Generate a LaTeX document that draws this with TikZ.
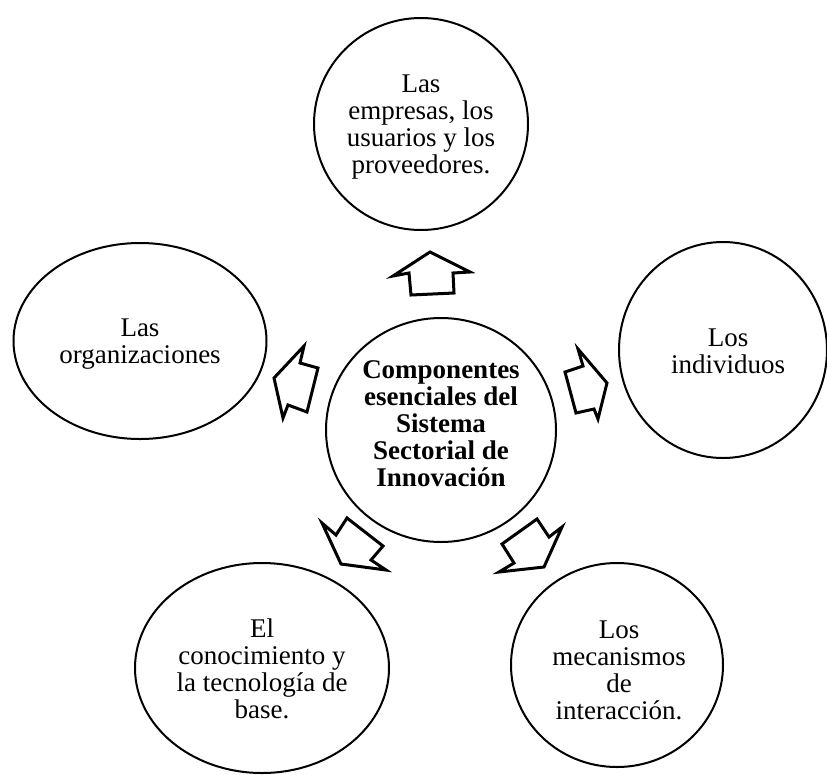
\documentclass[tikz,border=0pt]{standalone}
\usepackage{fontspec}
\setmainfont{Liberation Serif}
\usetikzlibrary{shapes.geometric}
\begin{document}
\begin{tikzpicture}[x=1pt,y=-1pt,
  bubble/.style={draw, ellipse, line width=2pt, inner sep=0pt},
  txt/.style={align=center, inner sep=0pt, font=\fontsize{27}{27}\selectfont},
  blockarrow/.style={draw, line width=3pt, line join=miter, fill=white}]
\useasboundingbox (0,0) rectangle (827,774);

% shapes
\node[bubble, minimum width=214pt, minimum height=212pt] (top) at (421,124) {};
\node[bubble, minimum width=230pt, minimum height=224pt] (centre) at (441,430) {};
\node[bubble, minimum width=253pt, minimum height=196pt] (left) at (140,341) {};
\node[bubble, minimum width=208pt, minimum height=216pt] (right) at (723,350) {};
\node[bubble, minimum width=254pt, minimum height=210pt] (botleft) at (262,668) {};
\node[bubble, minimum width=212pt, minimum height=204pt] (botright) at (617,665) {};

% texts
\node[txt] (toptext) at (421,127.1) {\strut Las\\empresas, los\\usuarios y los\\proveedores.\strut};
\node[txt, font=\fontsize{27}{27}\selectfont\bfseries] (centretext) at (441,426.6)
  {\strut Componentes\\esenciales del\\Sistema\\Sectorial de\\Innovación\strut};
\node[txt] (lefttext) at (140,344.6) {\strut Las\\organizaciones\strut};
\node[txt] (righttext) at (728,354.6) {\strut Los\\individuos\strut};
\node[txt] (botlefttext) at (262,672.1) {\strut El\\conocimiento y\\la tecnología de\\base.\strut};
\node[txt] (botrighttext) at (619,673.1) {\strut Los\\mecanismos\\de\\interacción.\strut};

% block arrows
\draw[blockarrow] (430,252) -- (470,272) -- (453,273) -- (454,293) -- (411,295) -- (409,273) -- (393,276) -- cycle;
\draw[blockarrow] (274,378) -- (304,346) -- (300,363) -- (318,368) -- (307,412) -- (288,405) -- (283,418) -- cycle;
\draw[blockarrow] (607,383) -- (578,349) -- (583,366) -- (565,372) -- (576,413) -- (594,409) -- (598,419) -- cycle;
\draw[blockarrow] (341,564) -- (322,523) -- (336,535) -- (347,518) -- (383,546) -- (371,560) -- (386,570) -- cycle;
\draw[blockarrow] (544,567) -- (562,527) -- (549,537) -- (537,519) -- (502,544) -- (514,563) -- (499,572) -- cycle;
\end{tikzpicture}
\end{document}
